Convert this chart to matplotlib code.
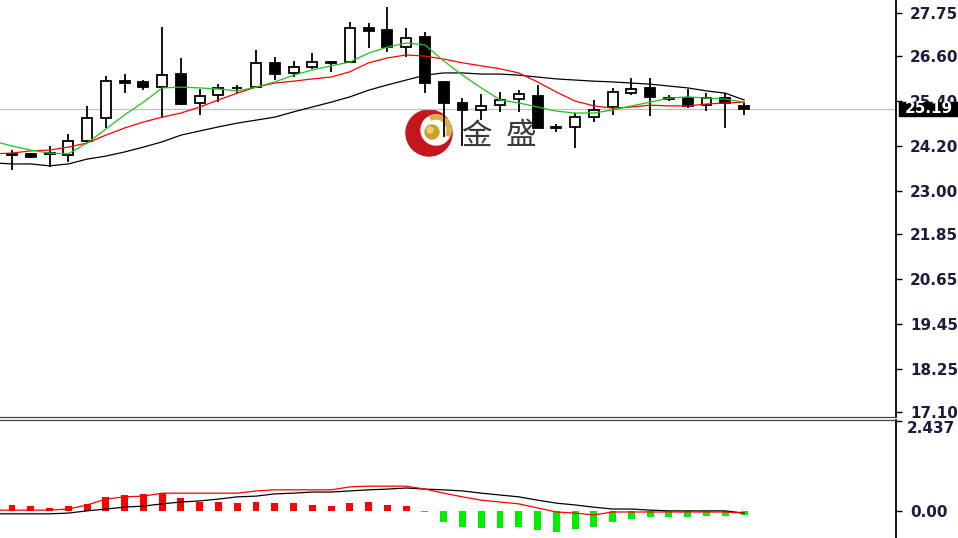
import numpy as np
import matplotlib
matplotlib.use('Agg')
import matplotlib.pyplot as plt
from matplotlib.patches import Circle, Wedge, Rectangle
from matplotlib.transforms import blended_transform_factory

# daily candles, oldest first
opens = [23.97, 23.99, 24.01, 23.96, 24.33, 24.95, 25.93, 25.91, 25.77, 26.12,
         25.35, 25.56, 25.75, 25.77, 26.42, 26.15, 26.31, 26.44, 26.44, 27.35,
         27.30, 26.84, 27.11, 25.91, 25.35, 25.16, 25.29, 25.45, 25.53, 24.68,
         24.71, 24.97, 25.24, 25.61, 25.75, 25.48, 25.48, 25.29, 25.48, 25.27]
highs = [24.09, 24.01, 24.20, 24.52, 25.27, 26.07, 26.12, 25.96, 27.38, 26.55,
         25.72, 25.85, 25.83, 26.76, 26.58, 26.47, 26.68, 26.47, 27.51, 27.48,
         27.91, 27.35, 27.24, 25.92, 25.48, 25.59, 25.64, 25.69, 25.83, 24.79,
         25.08, 25.43, 25.75, 26.01, 26.01, 25.56, 25.72, 25.61, 25.61, 25.37]
lows = [23.56, 23.88, 23.64, 23.77, 24.28, 24.68, 25.61, 25.69, 24.95, 25.30,
        25.03, 25.37, 25.61, 25.76, 25.96, 26.04, 26.26, 26.18, 26.43, 26.82,
        26.71, 26.58, 25.61, 24.44, 24.20, 24.89, 25.11, 25.11, 24.67, 24.57,
        24.15, 24.84, 25.03, 25.56, 25.00, 25.40, 25.21, 25.13, 24.68, 25.03]
closes = [23.96, 23.91, 23.99, 24.33, 24.95, 25.93, 25.88, 25.77, 26.09, 25.32,
          25.53, 25.75, 25.74, 26.42, 26.12, 26.31, 26.44, 26.42, 27.35, 27.27,
          26.84, 27.08, 25.88, 25.35, 25.16, 25.27, 25.43, 25.59, 24.68, 24.69,
          24.97, 25.16, 25.64, 25.72, 25.51, 25.45, 25.27, 25.48, 25.35, 25.19]

# moving averages, first value belongs to the bar just off the left edge
ma_green = [24.33, 24.20, 24.09, 24.01, 23.99, 24.28, 24.65, 25.03, 25.37, 25.75,
            25.77, 25.75, 25.72, 25.67, 25.77, 25.91, 26.09, 26.23, 26.34, 26.44,
            26.68, 26.84, 26.95, 26.90, 26.47, 26.09, 25.75, 25.43, 25.35, 25.24,
            25.13, 25.08, 25.08, 25.16, 25.27, 25.37, 25.48, 25.51, 25.48, 25.45, 25.37]
ma_red = [23.99, 24.01, 24.07, 24.09, 24.17, 24.28, 24.49, 24.68, 24.84, 24.97,
          25.08, 25.24, 25.43, 25.61, 25.77, 25.88, 25.93, 25.99, 26.04, 26.18,
          26.42, 26.55, 26.63, 26.60, 26.52, 26.42, 26.34, 26.26, 26.15, 25.91,
          25.64, 25.40, 25.27, 25.21, 25.24, 25.29, 25.27, 25.27, 25.32, 25.35, 25.37]
ma_black = [23.75, 23.72, 23.72, 23.67, 23.72, 23.85, 23.93, 24.04, 24.17, 24.31,
            24.49, 24.60, 24.71, 24.81, 24.89, 24.97, 25.11, 25.24, 25.37, 25.51,
            25.69, 25.83, 25.96, 26.09, 26.15, 26.15, 26.12, 26.12, 26.09, 26.04,
            25.99, 25.96, 25.93, 25.91, 25.88, 25.85, 25.80, 25.75, 25.67, 25.61, 25.43]

# MACD panel
macd_hist = [0.15, 0.11, 0.08, 0.11, 0.18, 0.36, 0.43, 0.45, 0.48, 0.33,
             0.24, 0.24, 0.20, 0.24, 0.20, 0.20, 0.15, 0.12, 0.21, 0.24,
             0.15, 0.12, -0.03, -0.30, -0.46, -0.48, -0.48, -0.46, -0.53, -0.57,
             -0.51, -0.46, -0.30, -0.24, -0.17, -0.17, -0.17, -0.15, -0.15, -0.12]
macd_red = [0.01, 0.01, 0.01, 0.01, 0.04, 0.15, 0.31, 0.37, 0.39, 0.47,
            0.47, 0.47, 0.47, 0.47, 0.53, 0.56, 0.56, 0.56, 0.56, 0.64,
            0.66, 0.66, 0.66, 0.58, 0.47, 0.37, 0.28, 0.23, 0.18, 0.07,
            -0.04, -0.07, -0.12, -0.04, -0.04, -0.04, -0.04, -0.04, -0.04, -0.04, -0.07]
macd_black = [-0.09, -0.09, -0.09, -0.09, -0.07, -0.01, 0.04, 0.09, 0.12, 0.18,
              0.23, 0.26, 0.31, 0.37, 0.39, 0.45, 0.47, 0.50, 0.50, 0.53,
              0.56, 0.58, 0.61, 0.58, 0.56, 0.53, 0.47, 0.42, 0.37, 0.28,
              0.20, 0.15, 0.09, 0.04, 0.04, 0.01, -0.01, -0.01, -0.01, -0.01, -0.07]

price_ticks = [27.75, 26.60, 25.40, 24.20, 23.00, 21.85, 20.65, 19.45, 18.25, 17.10]
last_price = 25.19
macd_top = 2.437
brand = ['金', '盛']

W, H = 958, 538
label_color = '#1c1c3c'
fsize = 11

fig = plt.figure(figsize=(W / 100, H / 100), dpi=100, facecolor='white')

# background layer in pixel coords for the watermark logo
bg = fig.add_axes([0, 0, 1, 1], zorder=0)
bg.set_xlim(0, W)
bg.set_ylim(H, 0)
bg.axis('off')
bg.add_patch(Circle((429, 133), 23, color='#c4161c'))
bg.add_patch(Circle((436, 130), 15, color='white'))
bg.add_patch(Wedge((436, 130), 15, -115, 25, width=4, color='#d9b24a'))
bg.add_patch(Circle((432, 132), 7, color='#c9a02a'))
bg.add_patch(Circle((430, 130), 3, color='#e8cf70'))
for k, ch in enumerate(brand):
    bg.text(476 + 45 * k, 136, ch, ha='center', va='center', fontsize=22,
            color='#3a3a3a', family=['Noto Sans CJK SC', 'DejaVu Sans'])

step = 18.77
x0 = 12
ax = fig.add_axes([0, (H - 416.5) / H, 896 / W, 416.5 / H], zorder=1)
ax.patch.set_visible(False)
ax.set_xlim(-x0 / step, (896 - x0) / step)
ax.set_ylim(16.978, 28.097)

x = np.arange(len(opens))
xm = np.arange(-1, len(opens))
o = np.array(opens)
c = np.array(closes)

ax.axhline(last_price, color='#c0c0c0', lw=0.9, zorder=1)
ax.vlines(x, lows, highs, color='black', lw=1.3, zorder=2)
body = np.maximum(np.abs(c - o), 0.02)
cols = ['white' if cc >= oo else 'black' for oo, cc in zip(o, c)]
ax.bar(x, body, bottom=np.minimum(o, c), width=0.53, color=cols,
       edgecolor='black', linewidth=1.3, zorder=3)

ax.plot(xm, ma_black, color='black', lw=0.9, zorder=4)
ax.plot(xm, ma_red, color='#ff0000', lw=0.9, zorder=4)
ax.plot(xm, ma_green, color='#1fc21f', lw=0.9, zorder=4)

for s in ['left', 'top']:
    ax.spines[s].set_visible(False)
ax.spines['right'].set_linewidth(1.3)
ax.spines['bottom'].set_color('#404040')
ax.spines['bottom'].set_linewidth(0.9)
ax.set_xticks([])
ax.yaxis.tick_right()
ax.set_yticks(price_ticks)
ax.set_yticklabels([f'{p:.2f}' for p in price_ticks], fontweight='bold')
ax.tick_params(axis='y', direction='out', length=4, width=1, pad=6,
               labelsize=fsize, labelcolor=label_color)

# current price marker on the price scale
tr = blended_transform_factory(ax.transAxes, ax.transData)
half = 7 / 37.46
ax.add_patch(Rectangle((1 + 3 / 896, last_price - half), 70 / 896, 2 * half,
                       transform=tr, color='black', clip_on=False, zorder=10))
ax.annotate(f'{last_price:.2f}', xy=(1, last_price), xycoords=tr,
            xytext=(6, 0), textcoords='offset points', ha='left', va='center',
            color='white', fontsize=fsize, fontweight='bold',
            annotation_clip=False, zorder=11)

# MACD subwindow
ax2 = fig.add_axes([0, 0, 896 / W, (H - 419.5) / H], zorder=1)
ax2.set_xlim(-x0 / step, (896 - x0) / step)
ax2.set_ylim(-0.745, 2.466)
hist_cols = ['#ff0000' if v >= 0 else '#00ee00' for v in macd_hist]
ax2.bar(x, macd_hist, width=0.37, color=hist_cols, zorder=2)
ax2.plot(xm, macd_black, color='black', lw=0.9, zorder=3)
ax2.plot(xm, macd_red, color='#ff0000', lw=0.9, zorder=3)

for s in ['left', 'bottom']:
    ax2.spines[s].set_visible(False)
ax2.spines['right'].set_linewidth(1.3)
ax2.spines['top'].set_color('#404040')
ax2.spines['top'].set_linewidth(0.9)
ax2.set_xticks([])
ax2.yaxis.tick_right()
ax2.set_yticks([macd_top, 0.0])
ax2.set_yticklabels(['', '0.00'], fontweight='bold')
ax2.tick_params(axis='y', direction='out', length=4, width=1, pad=6,
                labelsize=fsize, labelcolor=label_color)
tr2 = blended_transform_factory(ax2.transAxes, ax2.transData)
ax2.annotate(f'{macd_top:.3f}', xy=(1, macd_top), xycoords=tr2,
             xytext=(7.5, -0.5), textcoords='offset points', ha='left', va='top',
             color=label_color, fontsize=fsize, fontweight='bold', annotation_clip=False)

fig.savefig('out.png', dpi=100, facecolor='white')
